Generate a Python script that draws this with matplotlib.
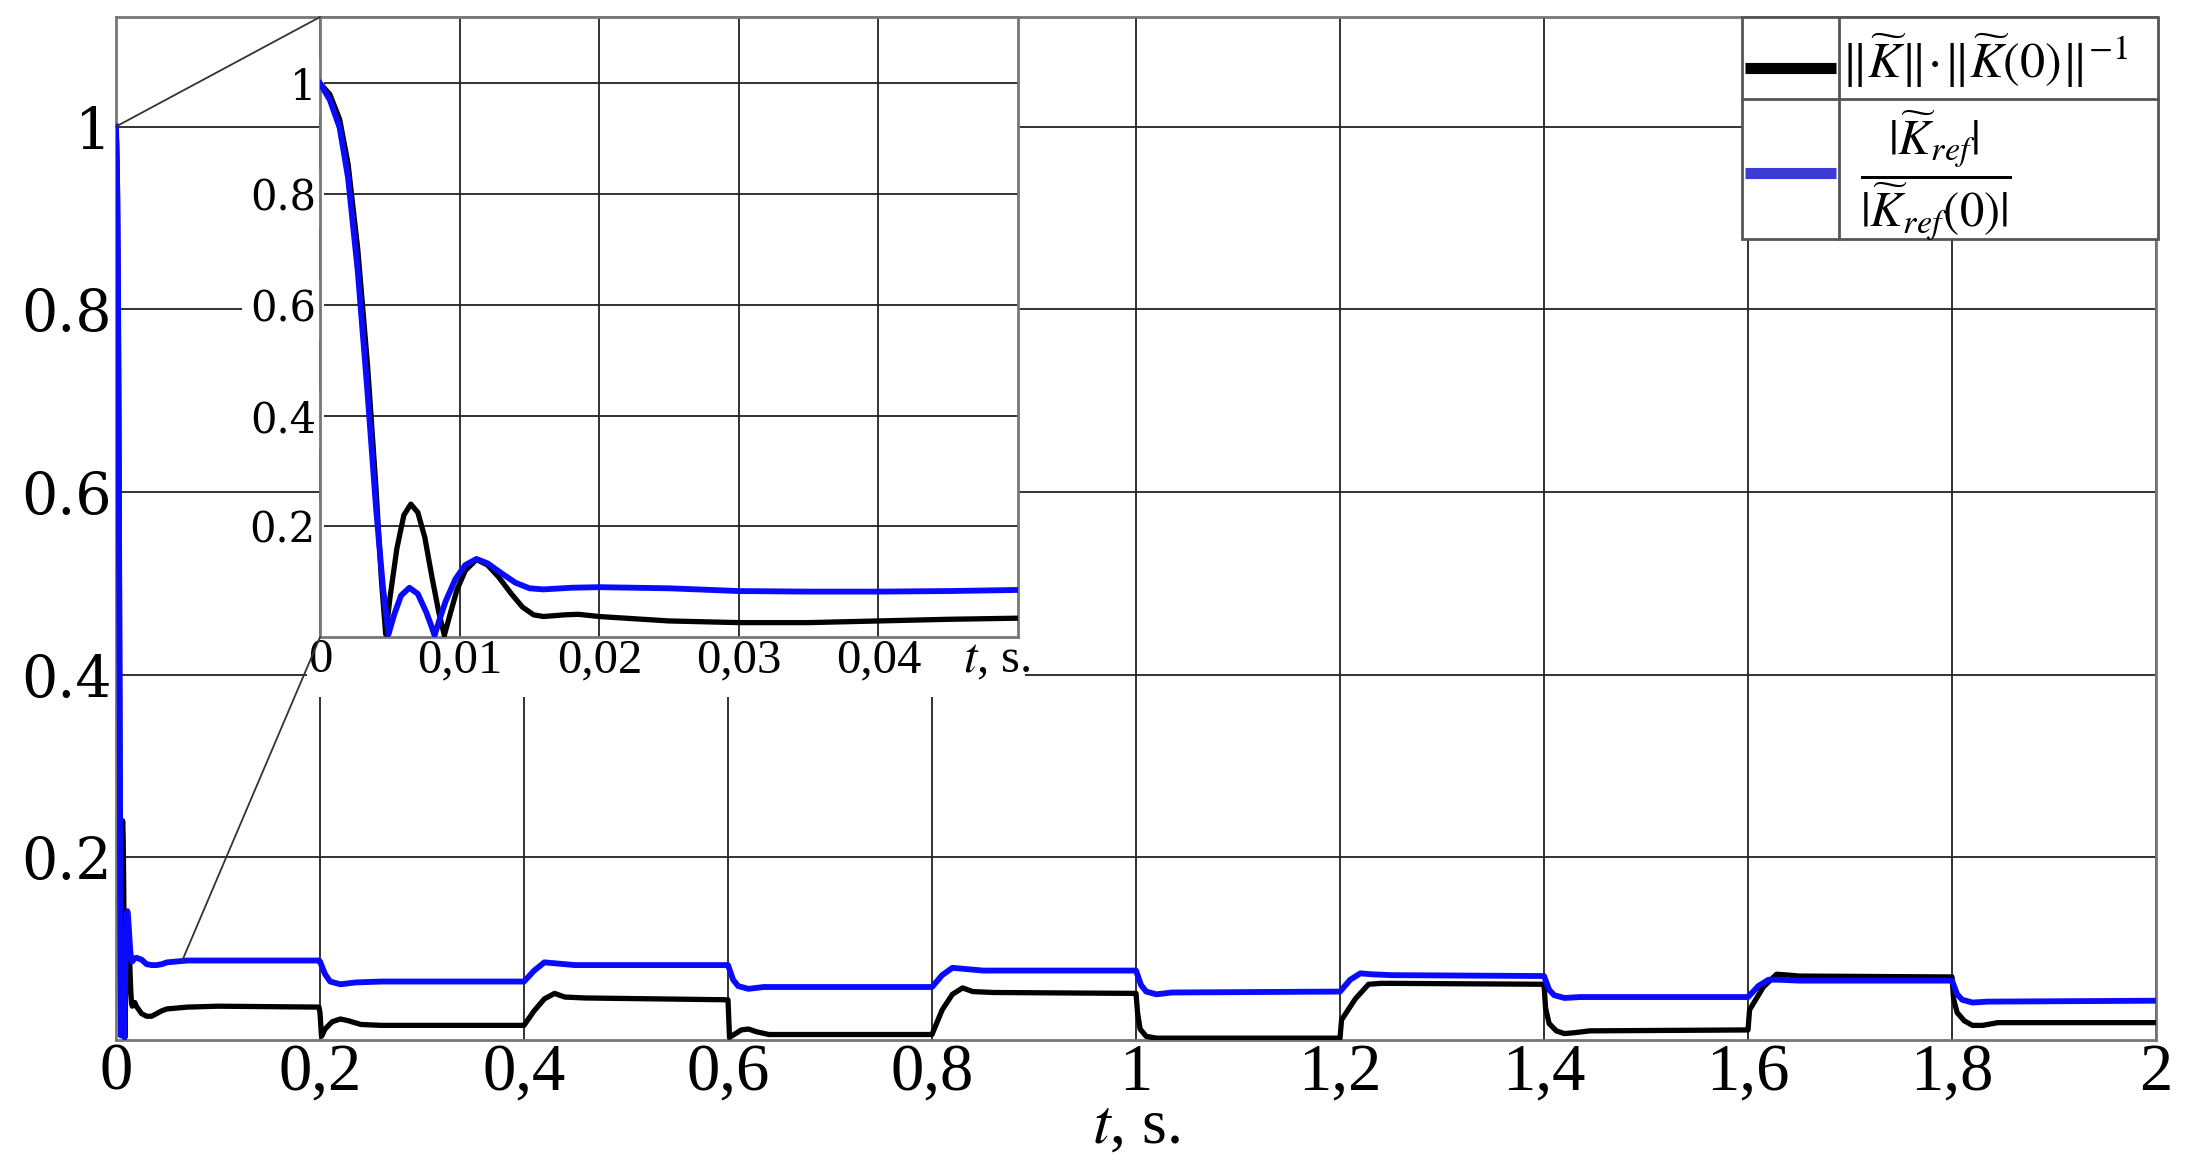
import matplotlib
matplotlib.use('Agg')
import matplotlib.pyplot as plt
from matplotlib.patches import Rectangle, ConnectionPatch

plt.rcParams['font.family'] = ['Liberation Serif', 'DejaVu Serif']
plt.rcParams['mathtext.fontset'] = 'stix'

# --- данные ---
# начальный участок (вставка, 0..0.05 с)
t_k_zoom = [0, 0.0007, 0.0014, 0.002, 0.0027, 0.0034, 0.004, 0.0044, 0.0047, 0.005,
            0.0055, 0.006, 0.0065, 0.007, 0.0075, 0.008, 0.0085, 0.0089, 0.0093, 0.0098,
            0.0104, 0.0112, 0.012, 0.0128, 0.0137, 0.0145, 0.0153, 0.016, 0.0175, 0.0185,
            0.02, 0.025, 0.03, 0.035, 0.04, 0.045, 0.05]
k_zoom = [1.0, 0.98, 0.935, 0.855, 0.70, 0.49, 0.27, 0.10, 0.005, 0.07,
          0.16, 0.22, 0.24, 0.225, 0.18, 0.11, 0.045, 0.003, 0.04, 0.085,
          0.12, 0.14, 0.13, 0.108, 0.078, 0.054, 0.04, 0.037, 0.04, 0.041,
          0.037, 0.029, 0.026, 0.026, 0.029, 0.032, 0.034]

t_ref_zoom = [0, 0.0007, 0.0014, 0.002, 0.0027, 0.0034, 0.004, 0.0045, 0.0049, 0.0053,
              0.0058, 0.0064, 0.007, 0.0076, 0.008, 0.0082, 0.0086, 0.009, 0.0097, 0.0104,
              0.0112, 0.012, 0.013, 0.014, 0.015, 0.016, 0.018, 0.02, 0.025, 0.03,
              0.035, 0.04, 0.045, 0.05]
ref_zoom = [1.0, 0.97, 0.92, 0.83, 0.66, 0.44, 0.235, 0.09, 0.005, 0.04,
            0.075, 0.089, 0.078, 0.045, 0.018, 0.003, 0.035, 0.065, 0.105, 0.13,
            0.141, 0.133, 0.115, 0.098, 0.088, 0.086, 0.089, 0.090, 0.088, 0.083,
            0.082, 0.082, 0.083, 0.085]

# остальная часть (0.05..2 с)
t_k_rest = [0.07, 0.1, 0.199, 0.2, 0.2015, 0.205, 0.212, 0.22, 0.228, 0.24, 0.26, 0.4,
            0.41, 0.42, 0.43, 0.44, 0.46, 0.6,
            0.6015, 0.606, 0.613, 0.62, 0.628, 0.64, 0.66, 0.8,
            0.81, 0.82, 0.83, 0.84, 0.86, 1.0,
            1.0015, 1.004, 1.01, 1.02, 1.2,
            1.2015, 1.215, 1.228, 1.24, 1.25, 1.4,
            1.4015, 1.405, 1.412, 1.42, 1.43, 1.445, 1.6,
            1.6015, 1.615, 1.628, 1.64, 1.65, 1.8,
            1.8015, 1.805, 1.812, 1.82, 1.83, 1.845, 2.0]
k_rest = [0.036, 0.037, 0.036, 0.03, 0.004, 0.012, 0.020, 0.023, 0.021, 0.017, 0.016, 0.016,
          0.032, 0.045, 0.051, 0.047, 0.046, 0.044,
          0.003, 0.006, 0.011, 0.012, 0.009, 0.006, 0.006, 0.006,
          0.033, 0.050, 0.057, 0.053, 0.052, 0.051,
          0.03, 0.012, 0.004, 0.002, 0.002,
          0.022, 0.045, 0.061, 0.062, 0.062, 0.061,
          0.035, 0.018, 0.010, 0.007, 0.008, 0.010, 0.011,
          0.033, 0.058, 0.072, 0.071, 0.070, 0.069,
          0.045, 0.030, 0.021, 0.016, 0.016, 0.019, 0.019]

t_ref_rest = [0.07, 0.199, 0.2, 0.205, 0.21, 0.22, 0.235, 0.26, 0.4,
              0.41, 0.42, 0.43, 0.45, 0.6,
              0.605, 0.61, 0.62, 0.635, 0.8,
              0.81, 0.82, 0.83, 0.85, 1.0,
              1.005, 1.01, 1.02, 1.035, 1.2,
              1.21, 1.22, 1.23, 1.25, 1.4,
              1.405, 1.41, 1.42, 1.435, 1.6,
              1.61, 1.62, 1.63, 1.65, 1.8,
              1.805, 1.81, 1.82, 1.835, 2.0]
ref_rest = [0.087, 0.087, 0.086, 0.072, 0.064, 0.061, 0.063, 0.064, 0.064,
            0.076, 0.085, 0.084, 0.082, 0.082,
            0.066, 0.059, 0.056, 0.058, 0.058,
            0.071, 0.079, 0.078, 0.076, 0.076,
            0.060, 0.053, 0.050, 0.052, 0.053,
            0.066, 0.073, 0.072, 0.071, 0.070,
            0.055, 0.049, 0.046, 0.047, 0.047,
            0.059, 0.066, 0.066, 0.065, 0.065,
            0.050, 0.044, 0.041, 0.042, 0.043]

x_ticks = [0, 0.2, 0.4, 0.6, 0.8, 1, 1.2, 1.4, 1.6, 1.8, 2]
x_labels = ['0', '0,2', '0,4', '0,6', '0,8', '1', '1,2', '1,4', '1,6', '1,8', '2']
y_ticks = [0.2, 0.4, 0.6, 0.8, 1]
y_labels = ['0.2', '0.4', '0.6', '0.8', '1']
xz_ticks = [0, 0.01, 0.02, 0.03, 0.04]
xz_labels = ['0', '0,01', '0,02', '0,03', '0,04']

legend_k = r'$\|\widetilde{K}\|\!\cdot\!\|\widetilde{K}(0)\|^{-1}$'
legend_ref = r'$\dfrac{|\widetilde{K}_{ref}|}{|\widetilde{K}_{ref}(0)|}$'

BLUE = '#0a0aff'
GRID = '#222222'
FRAME = '#777777'

t_k = t_k_zoom + t_k_rest
k_all = k_zoom + k_rest
t_ref = t_ref_zoom + t_ref_rest
ref_all = ref_zoom + ref_rest

fig = plt.figure(figsize=(21.88, 11.62), dpi=100)
ax = fig.add_axes([0.053, 0.105, 0.9324, 0.8804])

ax.plot(t_k, k_all, color='black', lw=3.8, zorder=3)
ax.plot(t_ref, ref_all, color=BLUE, lw=4.2, zorder=4)
ax.set_xlim(0, 2)
ax.set_ylim(0, 1.12)
ax.set_xticks(x_ticks)
ax.set_xticklabels(x_labels, fontsize=48)
ax.set_yticks(y_ticks)
ax.set_yticklabels(y_labels, fontsize=41)
for lab in ax.get_yticklabels():
    lab.set_fontfamily('DejaVu Serif')
ax.tick_params(axis='x', length=0, pad=2)
ax.tick_params(axis='y', length=0, pad=3)
ax.set_axisbelow(True)
ax.grid(True, color=GRID, lw=1.3)
for s in ax.spines.values():
    s.set_color(FRAME)
    s.set_linewidth(2)
ax.set_xlabel(r'$t$, s.', fontsize=46, labelpad=-4)

# белая полоса под подписями вставки
ax.add_patch(Rectangle((0.187, 0.375), 0.704, 0.07, facecolor='white',
                       edgecolor='none', zorder=1.5))

# легенда в виде таблицы
lx0, lx1, lxm = 1.594, 2.002, 1.689
ly0, ly1, lym = 0.877, 1.12, 1.030
ax.add_patch(Rectangle((lx0, ly0), lx1 - lx0, ly1 - ly0, facecolor='white',
                       edgecolor='#555555', lw=2, zorder=5, clip_on=False))
ax.plot([lx0, lx1], [lym, lym], color='#555555', lw=2, zorder=6, clip_on=False)
ax.plot([lxm, lxm], [ly0, ly1], color='#555555', lw=2, zorder=6, clip_on=False)
ax.plot([1.597, 1.686], [1.064, 1.064], color='black', lw=8, zorder=7,
        solid_capstyle='butt', clip_on=False)
ax.plot([1.597, 1.686], [0.949, 0.949], color='#3c3cd2', lw=8, zorder=7,
        solid_capstyle='butt', clip_on=False)
ax.text(1.832, 1.072, legend_k, fontsize=36, ha='center', va='center', zorder=8)
ax.text(1.784, 0.946, legend_ref, fontsize=35, ha='center', va='center', zorder=8)

# вставка
ax_in = fig.add_axes([0.1463, 0.4518, 0.319, 0.5336])
ax_in.plot(t_k_zoom, k_zoom, color='black', lw=3.8, zorder=3)
ax_in.plot(t_ref_zoom, ref_zoom, color=BLUE, lw=4.2, zorder=4)
ax_in.set_xlim(0, 0.05)
ax_in.set_ylim(0, 1.12)
ax_in.set_xticks(xz_ticks)
ax_in.set_xticklabels(xz_labels, fontsize=35)
ax_in.set_yticks(y_ticks)
ax_in.set_yticklabels(y_labels, fontsize=30)
for lab in ax_in.get_yticklabels():
    lab.set_fontfamily('DejaVu Serif')
    lab.set_bbox(dict(facecolor='white', edgecolor='none', pad=6))
ax_in.tick_params(axis='x', length=0, pad=1)
ax_in.tick_params(axis='y', length=0, pad=3)
ax_in.set_axisbelow(True)
ax_in.grid(True, color=GRID, lw=1.3)
for s in ax_in.spines.values():
    s.set_color(FRAME)
    s.set_linewidth(2)
ax_in.annotate(r'$t$, s.', xy=(0.0485, 0), xycoords=('data', 'axes fraction'),
               xytext=(0, -1), textcoords='offset points', ha='center', va='top',
               fontsize=35, annotation_clip=False)

# линии увеличения
for xyA, xyB in [((0, 1), (0, 1)), ((0.065, 0.087), (0, 0))]:
    con = ConnectionPatch(xyA=xyA, coordsA=ax.transData, xyB=xyB,
                          coordsB=ax_in.transAxes, color='#333333', lw=1.3)
    fig.add_artist(con)

fig.savefig('out.png', dpi=100)
